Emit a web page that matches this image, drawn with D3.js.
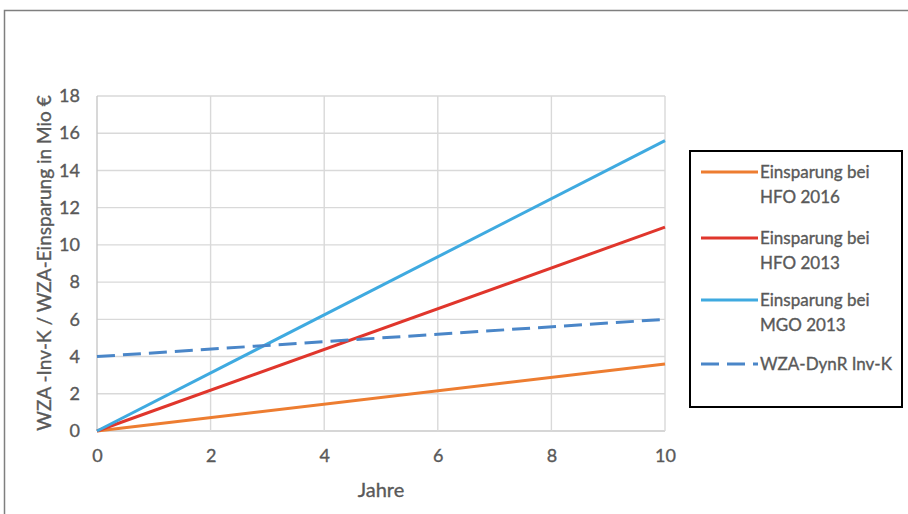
<!DOCTYPE html>
<html><head><meta charset="utf-8">
<script src="https://cdn.jsdelivr.net/npm/d3@7/dist/d3.min.js"></script>
<style>body{margin:0;background:#fff}svg{display:block}
text{stroke:#595959;stroke-width:0.35px;paint-order:stroke}</style>
</head><body><svg id="c" width="908" height="514"></svg>
<script>
const years = [0, 10];
const hfo2016 = [0, 3.6];
const hfo2013 = [0, 10.95];
const mgo2013 = [0, 15.6];
const dynInvK = [4.0, 6.0];
const xTicks = [0, 2, 4, 6, 8, 10];
const yTicks = [0, 2, 4, 6, 8, 10, 12, 14, 16, 18];
const seriesNames = ["Einsparung bei|HFO 2016", "Einsparung bei|HFO 2013", "Einsparung bei|MGO 2013", "WZA-DynR Inv-K"];

const font = "Lato, 'Open Sans', sans-serif";
const txt = "#595959";
const svg = d3.select("#c");
svg.append("rect").attr("x",0).attr("y",0).attr("width",908).attr("height",514).attr("fill","#fff");
svg.append("path").attr("d","M4.5,514 V10.5 H908").attr("fill","none").attr("stroke","#7f7f7f").attr("stroke-width",1.5);

const x = d3.scaleLinear().domain([0,10]).range([97,665]);
const y = d3.scaleLinear().domain([0,18]).range([431,96]);

const grid = svg.append("g");
grid.selectAll(".gy").data(yTicks).join("line")
  .attr("x1",x(0)).attr("x2",x(10)).attr("y1",d=>y(d)).attr("y2",d=>y(d))
  .attr("stroke",d=>d===0?"#c8c8c8":"#d9d9d9").attr("stroke-width",1.4);
grid.selectAll(".gx").data(xTicks).join("line")
  .attr("x1",d=>x(d)).attr("x2",d=>x(d)).attr("y1",y(0)).attr("y2",y(18))
  .attr("stroke",d=>d===0?"#c8c8c8":"#d9d9d9").attr("stroke-width",1.4);

const yAxis = svg.append("g").attr("transform",`translate(${x(0)},0)`)
  .call(d3.axisLeft(y).tickValues(yTicks).tickSize(0).tickPadding(17));
const xAxis = svg.append("g").attr("transform",`translate(0,${y(0)})`)
  .call(d3.axisBottom(x).tickValues(xTicks).tickSize(0).tickPadding(18));
[yAxis,xAxis].forEach(a=>{
  a.select(".domain").remove();
  a.selectAll("text").attr("font-family",font).attr("font-size",18).attr("fill",txt);
});

const line = d3.line().x((d,i)=>x(years[i])).y(d=>y(d));
const series = [
  {v:hfo2016, c:"#ED7D31", dash:null},
  {v:hfo2013, c:"#E0362C", dash:null},
  {v:mgo2013, c:"#3FAAE0", dash:null},
  {v:dynInvK, c:"#4A86C8", dash:"18,8"}
];
svg.append("g").selectAll("path").data(series).join("path")
  .attr("d",d=>line(d.v)).attr("fill","none").attr("stroke",d=>d.c)
  .attr("stroke-width",3).attr("stroke-dasharray",d=>d.dash);

svg.append("text").attr("transform",`translate(51,263) rotate(-90)`)
  .attr("text-anchor","middle").attr("font-family",font).attr("font-size",19)
  .attr("fill",txt)
  .text("WZA -Inv-K / WZA-Einsparung in  Mio €");
svg.append("text").attr("x",381).attr("y",497).attr("text-anchor","middle")
  .attr("font-family",font).attr("font-size",20).attr("fill",txt).text("Jahre");

svg.append("rect").attr("x",690).attr("y",151).attr("width",212).attr("height",256)
  .attr("fill","#fff").attr("stroke","#000").attr("stroke-width",2);
const ly = [172, 238, 300, 364];
const lg = svg.append("g");
series.forEach((s,i)=>{
  lg.append("line").attr("x1",701).attr("x2",758).attr("y1",ly[i]).attr("y2",ly[i])
    .attr("stroke",s.c).attr("stroke-width",3).attr("stroke-dasharray",s.dash);
  const parts = seriesNames[i].split("|");
  const t = lg.append("text").attr("font-family",font).attr("font-size",17).attr("fill",txt);
  parts.forEach((p,j)=>{
    t.append("tspan").attr("x",760).attr("y",ly[i]+6+j*24.5).text(p);
  });
});
</script></body></html>
